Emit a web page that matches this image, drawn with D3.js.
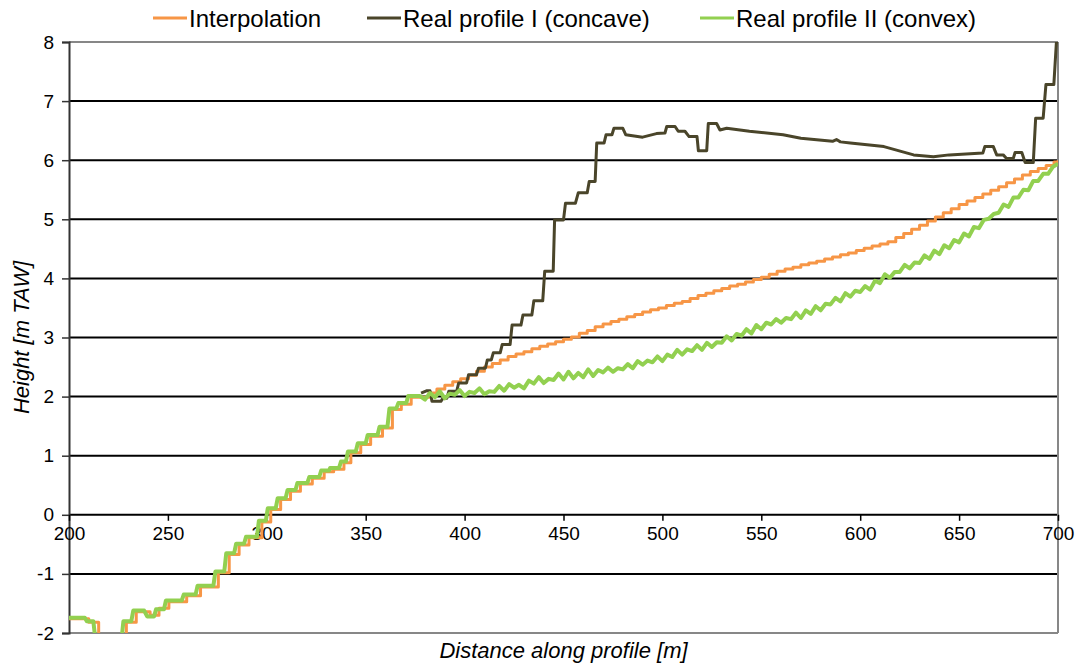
<!DOCTYPE html>
<html><head><meta charset="utf-8">
<script src="https://cdn.jsdelivr.net/npm/d3@7"></script>
<style>
html,body{margin:0;padding:0;background:#fff;}
svg{display:block;font-family:"Liberation Sans",Arial,sans-serif;}
</style></head>
<body>
<svg id="chart" width="1075" height="664"></svg>
<script>
// ---- data ----
const seriesNames = ["Interpolation", "Real profile I (concave)", "Real profile II (convex)"];
const seriesColors = ["#f79646", "#4a452a", "#92d050"];
const xTicks = [200, 250, 300, 350, 400, 450, 500, 550, 600, 650, 700];
const yTicks = [8, 7, 6, 5, 4, 3, 2, 1, 0, -1, -2];
const yTickLabels = ["8", "7", "6", "5", "4", "3", "2", "1", "0", "-1", "-2"];

// Interpolation: step starts (x, y)
const interpolation = [
[200,-1.76],[210,-1.82],[215,-2.3],[229,-1.82],[234,-1.64],[241,-1.70],[245.5,-1.58],[250.5,-1.47],[259.5,-1.37],[266.5,-1.22],
[275.5,-0.98],[281,-0.67],[286,-0.51],[291,-0.39],[297.5,-0.12],[302,0.09],[307,0.26],[312,0.40],[317,0.52],[323,0.62],
[329,0.73],[333.8,0.77],[339,0.88],[342.5,1.05],[347.5,1.19],[352.5,1.33],[358.5,1.47],[363.5,1.78],[368,1.87],[373,1.99],
[382,2.06],[386,2.13],[390,2.19],[394,2.25],[398,2.30],[402,2.36],[406,2.43],[410,2.50],[414,2.56],[418,2.62],
[422,2.68],[426,2.72],[430,2.76],[434,2.81],[438,2.85],[442,2.89],[446,2.93],[450,2.97],[454,3.01],[458,3.07],
[462,3.12],[466,3.18],[470,3.23],[474,3.27],[478,3.31],[482,3.35],[486,3.39],[490,3.43],[494,3.47],[498,3.50],
[502,3.54],[506,3.58],[510,3.61],[514,3.66],[518,3.71],[522,3.75],[526,3.79],[530,3.83],[534,3.87],[538,3.90],
[542,3.94],[546,3.98],[550,4.02],[554,4.07],[558,4.12],[562,4.16],[566,4.19],[570,4.23],[574,4.26],[578,4.29],
[582,4.33],[586,4.36],[590,4.40],[594,4.43],[598,4.47],[602,4.51],[606,4.55],[610,4.58],[614,4.62],[618,4.69],
[622,4.76],[626,4.83],[630,4.90],[634,4.97],[638,5.04],[642,5.11],[646,5.18],[650,5.25],[654,5.31],[658,5.37],
[662,5.43],[666,5.49],[670,5.55],[674,5.62],[678,5.68],[682,5.75],[686,5.81],[690,5.86],[694,5.91],[698,5.97],[700,6.00]
];

// Real profile I (concave)
const profileI = [
[378,2.06],[381,2.10],[382.5,2.10],[383.5,1.92],[388,1.92],[389,1.97],[391,1.97],[392,2.09],[396,2.09],[397,2.23],
[401,2.23],[402,2.37],[406,2.37],[407,2.48],[410.5,2.48],[411.5,2.62],[413.5,2.62],[414.5,2.74],[418,2.74],[419,2.88],
[423,2.88],[424,3.21],[428.5,3.21],[429.5,3.38],[434,3.38],[435,3.62],[439.5,3.62],[440.5,4.12],[444.8,4.12],[445.5,4.99],
[450,4.99],[451,5.27],[456,5.27],[457.5,5.45],[462,5.45],[463,5.64],[466,5.64],[466.8,6.29],[470.5,6.29],[471.5,6.43],
[474.5,6.43],[475.5,6.54],[480,6.54],[481.5,6.43],[490,6.39],[497,6.45],[501.3,6.46],[502.2,6.57],[506.4,6.57],[508,6.49],
[511.4,6.49],[513.5,6.40],[517.5,6.40],[518.2,6.16],[522.4,6.16],[523.2,6.62],[527.4,6.62],[529.1,6.51],[532.5,6.54],[544,6.49],
[561,6.43],[570,6.37],[586,6.32],[588,6.35],[590,6.31],[595,6.29],[612,6.23],[627,6.09],[637,6.06],[645,6.09],
[662,6.12],[663,6.23],[667.3,6.23],[669,6.09],[672.3,6.09],[674,6.03],[677.4,6.03],[678.3,6.13],[681.7,6.13],[683.4,5.96],
[687.5,5.96],[688.7,6.71],[692.5,6.71],[693.9,7.28],[697.9,7.28],[699.2,8.0],[700,8.0]
];

// Real profile II (convex)
const profileII = [
[200,-1.74],[208,-1.74],[209,-1.80],[212.3,-1.80],[214,-2.3],[226,-2.3],[227.5,-1.80],[231.5,-1.80],[232.5,-1.62],[238,-1.62],
[239.5,-1.72],[243,-1.72],[244,-1.60],[248,-1.60],[249,-1.45],[257,-1.45],[258,-1.35],[264,-1.35],[265,-1.20],[273,-1.20],
[274,-0.96],[278.5,-0.96],[279.5,-0.65],[283.5,-0.65],[284.5,-0.49],[288.5,-0.49],[289.5,-0.37],[295,-0.37],[296,-0.10],[299.5,-0.10],
[300.5,0.11],[304.5,0.11],[305.5,0.28],[309.5,0.28],[310.5,0.42],[314.5,0.42],[315.5,0.54],[320.5,0.54],[321.5,0.64],[326.5,0.64],
[327.5,0.75],[331.5,0.75],[332,0.79],[336.5,0.79],[337.5,0.90],[340,0.90],[341,1.07],[345,1.07],[346,1.21],[350,1.21],
[351,1.35],[356,1.35],[357,1.49],[361,1.49],[362,1.80],[365.5,1.80],[366.5,1.89],[370.5,1.89],[371.5,2.01],[377.5,2.01],
[380,1.95],[382.5,2.06],[385,1.99],[387.5,2.09],[390,1.97],[392.5,2.05],[395,2.03],[397.5,2.11],[400,2.01],[402.5,2.08],
[405,2.06],[407.5,2.14],[410,2.04],[412.5,2.09],[415,2.08],[417.5,2.18],[420,2.10],[422.5,2.21],[425,2.15],[427.5,2.20],
[430,2.14],[432.5,2.27],[435,2.22],[437.5,2.33],[440,2.23],[442.5,2.30],[445,2.28],[447.5,2.39],[450,2.29],[452.5,2.42],
[455,2.31],[457.5,2.40],[460,2.33],[462.5,2.46],[465,2.35],[467.5,2.45],[470,2.41],[472.5,2.49],[475,2.42],[477.5,2.48],
[480,2.46],[482.5,2.55],[485,2.48],[487.5,2.60],[490,2.54],[492.5,2.61],[495,2.58],[497.5,2.68],[500,2.60],[502.5,2.71],
[505,2.67],[507.5,2.79],[510,2.71],[512.5,2.80],[515,2.77],[517.5,2.87],[520,2.79],[522.5,2.91],[525,2.84],[527.5,2.92],
[530,2.91],[532.5,3.02],[535,2.95],[537.5,3.06],[540,3.03],[542.5,3.14],[545,3.07],[547.5,3.21],[550,3.14],[552.5,3.25],
[555,3.22],[557.5,3.31],[560,3.25],[562.5,3.33],[565,3.31],[567.5,3.42],[570,3.33],[572.5,3.46],[575,3.40],[577.5,3.53],
[580,3.46],[582.5,3.57],[585,3.56],[587.5,3.67],[590,3.61],[592.5,3.75],[595,3.69],[597.5,3.79],[600,3.77],[602.5,3.87],
[605,3.81],[607.5,3.96],[610,3.92],[612.5,4.07],[615,4.01],[617.5,4.11],[620,4.11],[622.5,4.23],[625,4.17],[627.5,4.27],
[630,4.26],[632.5,4.39],[635,4.33],[637.5,4.47],[640,4.41],[642.5,4.56],[645,4.51],[647.5,4.65],[650,4.61],[652.5,4.76],
[655,4.71],[657.5,4.87],[660,4.85],[662.5,4.99],[665,5.01],[667.5,5.09],[670,5.11],[672.5,5.25],[675,5.21],[677.5,5.37],
[680,5.37],[682.5,5.50],[685,5.49],[687.5,5.65],[690,5.65],[692.5,5.77],[695,5.77],[697.5,5.89],[700,5.94]
];

// ---- chart ----
const svg = d3.select("#chart");
const L = 69, R = 1058, T = 42, B = 633;
const x = d3.scaleLinear().domain([200, 700]).range([L, R]);
const y = d3.scaleLinear().domain([-2, 8]).range([B, T]);

svg.append("defs").append("clipPath").attr("id", "plotclip")
  .append("rect").attr("x", L).attr("y", T).attr("width", R - L).attr("height", B - T);

// gridlines
svg.append("g").selectAll("line").data(yTicks.filter(v => v > -2 && v < 8)).join("line")
  .attr("x1", L).attr("x2", R).attr("y1", d => y(d)).attr("y2", d => y(d))
  .attr("stroke", "#000").attr("stroke-width", 2);

// border (top, right, bottom) gray
svg.append("line").attr("x1", L).attr("x2", R).attr("y1", T).attr("y2", T).attr("stroke", "#878787").attr("stroke-width", 2);
svg.append("line").attr("x1", L).attr("x2", R).attr("y1", B).attr("y2", B).attr("stroke", "#878787").attr("stroke-width", 2);
svg.append("line").attr("x1", R).attr("x2", R).attr("y1", T).attr("y2", B).attr("stroke", "#878787").attr("stroke-width", 2);

// y axis
const yAxis = d3.axisLeft(y).tickValues(yTicks).tickSize(7).tickPadding(8)
  .tickFormat((d, i) => yTickLabels[i]);
const gy = svg.append("g").attr("transform", `translate(${L},0)`).call(yAxis);
gy.select(".domain").attr("stroke", "#333").attr("stroke-width", 2);
gy.selectAll(".tick line").attr("stroke", "#333").attr("stroke-width", 1.5);
gy.selectAll("text").attr("font-size", 19).attr("fill", "#000")
  .attr("font-family", "'Liberation Sans', Arial, sans-serif");

// x axis at y=0
const xAxis = d3.axisBottom(x).tickValues(xTicks).tickSize(6).tickPadding(6).tickFormat(d3.format("d"));
const gx = svg.append("g").attr("transform", `translate(0,${y(0)})`).call(xAxis);
gx.select(".domain").remove();
gx.selectAll(".tick line").attr("stroke", "#000").attr("stroke-width", 1.5);
gx.selectAll("text").attr("font-size", 19).attr("fill", "#000")
  .attr("font-family", "'Liberation Sans', Arial, sans-serif");

// lines
const plot = svg.append("g").attr("clip-path", "url(#plotclip)");
plot.append("path").datum(interpolation)
  .attr("d", d3.line().x(d => x(d[0])).y(d => y(d[1])).curve(d3.curveStepAfter))
  .attr("fill", "none").attr("stroke", seriesColors[0]).attr("stroke-width", 3).attr("stroke-linejoin", "round");
plot.append("path").datum(profileI)
  .attr("d", d3.line().x(d => x(d[0])).y(d => y(d[1])))
  .attr("fill", "none").attr("stroke", seriesColors[1]).attr("stroke-width", 3).attr("stroke-linejoin", "round");
plot.append("path").datum(profileII)
  .attr("d", d3.line().x(d => x(d[0])).y(d => y(d[1])))
  .attr("fill", "none").attr("stroke", seriesColors[2]).attr("stroke-width", 4).attr("stroke-linejoin", "round");

// axis titles
svg.append("text").attr("x", (L + R) / 2).attr("y", 658).attr("text-anchor", "middle")
  .attr("font-size", 22).attr("font-style", "italic").text("Distance along profile [m]");
svg.append("text").attr("transform", `translate(29,${(T + B) / 2}) rotate(-90)`).attr("text-anchor", "middle")
  .attr("font-size", 22).attr("font-style", "italic").text("Height [m TAW]");

// legend
const legendX = [153, 367, 700];
const lg = svg.append("g");
seriesNames.forEach((n, i) => {
  lg.append("line").attr("x1", legendX[i]).attr("x2", legendX[i] + 34).attr("y1", 18).attr("y2", 18)
    .attr("stroke", seriesColors[i]).attr("stroke-width", 3);
  lg.append("text").attr("x", legendX[i] + 36).attr("y", 27).attr("font-size", 24).attr("fill", "#000").text(n);
});
</script>
</body></html>
